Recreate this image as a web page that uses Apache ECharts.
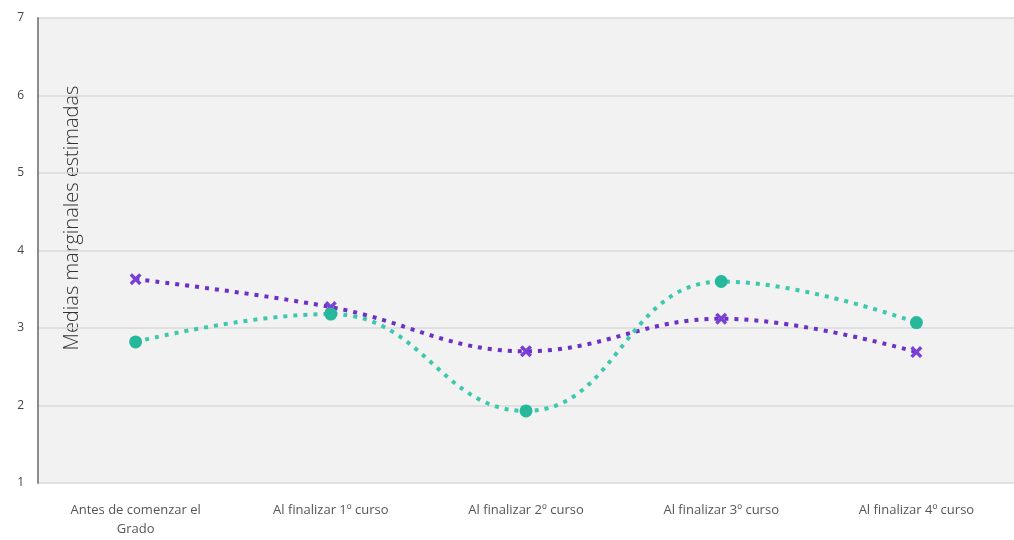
<!DOCTYPE html>
<html>
<head>
<meta charset="utf-8">
<script src="https://cdn.jsdelivr.net/npm/echarts@6/dist/echarts.min.js"></script>
<style>
  html, body { margin: 0; padding: 0; background: #fff; }
  #main { width: 1014px; height: 540px; }
</style>
</head>
<body>
<div id="main"></div>
<script>
var categories = ['Antes de comenzar el\nGrado', 'Al finalizar 1º curso', 'Al finalizar 2º curso', 'Al finalizar 3º curso', 'Al finalizar 4º curso'];
var seriePurpura = [3.63, 3.27, 2.70, 3.12, 2.69];
var serieVerde = [2.82, 3.18, 1.93, 3.60, 3.07];
var yTitulo = 'Medias marginales estimadas';

var cruz = 'path://M2,0 L5,3 L8,0 L10,2 L7,5 L10,8 L8,10 L5,7 L2,10 L0,8 L3,5 L0,2 Z';

var myChart = echarts.init(document.getElementById('main'));
var option = {
  animation: false,
  grid: {
    left: 38, right: 0, top: 18, bottom: 57,
    show: true, backgroundColor: '#f2f2f2', borderWidth: 0
  },
  xAxis: {
    type: 'category',
    data: categories,
    boundaryGap: true,
    axisLine: { show: false },
    axisTick: { show: false },
    axisLabel: { color: '#555', fontSize: 13, fontFamily: 'Open Sans', margin: 18, lineHeight: 19, interval: 0 }
  },
  yAxis: {
    type: 'value',
    min: 1, max: 7, interval: 1,
    axisLine: { show: true, lineStyle: { color: '#8c8c8c', width: 2 } },
    axisTick: { show: false },
    axisLabel: { color: '#444', fontSize: 12, fontFamily: 'Open Sans', margin: 14 },
    splitLine: { lineStyle: { color: '#d9d9d9', width: 1.5 } }
  },
  graphic: [{
    type: 'text',
    x: 72, y: 218,
    rotation: Math.PI / 2,
    style: {
      text: yTitulo,
      fill: '#333',
      font: '300 20px "Open Sans"',
      textAlign: 'center',
      textVerticalAlign: 'middle'
    }
  }],
  series: [{
    type: 'line',
    data: seriePurpura,
    smooth: 0.4,
    symbol: cruz,
    symbolSize: 12,
    itemStyle: { color: '#7a3fd4' },
    lineStyle: { color: '#6c2fc8', width: 4, type: [4, 6] }
  }, {
    type: 'line',
    data: serieVerde,
    smooth: 0.45,
    symbol: 'circle',
    symbolSize: 13,
    itemStyle: { color: '#25b89b' },
    lineStyle: { color: '#3cc8ad', width: 4, type: [4, 6] }
  }]
};
myChart.setOption(option);
myChart.resize();
</script>
</body>
</html>
